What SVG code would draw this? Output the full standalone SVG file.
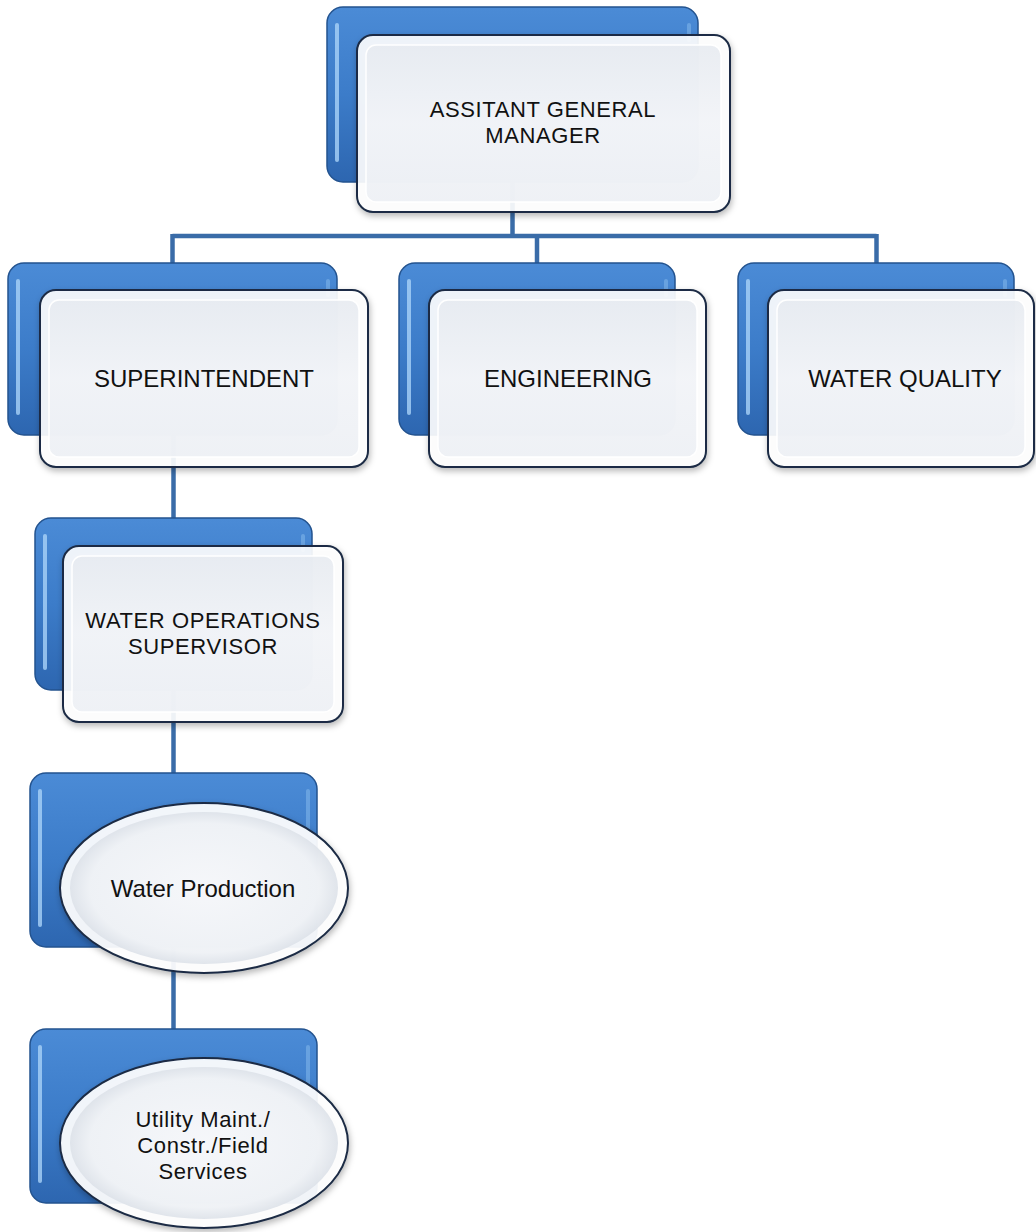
<svg xmlns="http://www.w3.org/2000/svg" width="1036" height="1232" viewBox="0 0 1036 1232">
<defs>
<linearGradient id="blueG" x1="0" y1="0" x2="0" y2="1">
<stop offset="0" stop-color="#4b8bd6"/>
<stop offset="0.5" stop-color="#3c7cc9"/>
<stop offset="1" stop-color="#2d66b0"/>
</linearGradient>
<linearGradient id="panelG" x1="0" y1="0" x2="0" y2="1">
<stop offset="0" stop-color="#e6eaf0"/>
<stop offset="0.5" stop-color="#f1f3f7"/>
<stop offset="1" stop-color="#eceff4"/>
</linearGradient>
<radialGradient id="ellG" cx="0.5" cy="0.5" r="0.5">
<stop offset="0" stop-color="#f6f7fa"/>
<stop offset="0.85" stop-color="#eef1f5"/>
<stop offset="1" stop-color="#dde2e9"/>
</radialGradient>
<filter id="sh" x="-10%" y="-10%" width="125%" height="130%">
<feDropShadow dx="1" dy="3" stdDeviation="3" flood-color="#000" flood-opacity="0.3"/>
</filter>
</defs>
<style>
.back{fill:url(#blueG);stroke:#23538f;stroke-width:1.5}
.hl{fill:none;stroke:#a9d2f7;stroke-width:4;stroke-linecap:round;opacity:0.8}
.hr{fill:none;stroke:#7fb4ea;stroke-width:4;stroke-linecap:round;opacity:0.6}
.front{fill:#ffffff;fill-opacity:0.9;stroke:#1b2c44;stroke-width:2}
.panel{fill:url(#panelG);fill-opacity:0.85;stroke:#ffffff;stroke-width:1.5}
.ell{fill:#ffffff;fill-opacity:0.92;stroke:#1b2c44;stroke-width:2}
.ellin{fill:url(#ellG);fill-opacity:0.9}
.conn{fill:none;stroke:#3a6ca8;stroke-width:4.5}
text{font-family:"Liberation Sans",Arial,sans-serif;font-size:24px;fill:#111;text-anchor:middle}
text.m{font-size:22px;letter-spacing:0.6px}
</style>
<rect width="1036" height="1232" fill="#ffffff"/>
<g id="connectors">
<path class="conn" d="M512.5 180 V236"/>
<path class="conn" d="M172.5 236 H876.5"/>
<path class="conn" d="M172.5 234 V264"/>
<path class="conn" d="M537 236 V264"/>
<path class="conn" d="M876.5 234 V264"/>
<path class="conn" d="M173.5 430 V519"/>
<path class="conn" d="M173.5 686 V774"/>
<path class="conn" d="M173.5 945 V1030"/>
</g>
<g id="node-agm">
<rect class="back" x="327" y="7" width="371" height="175" rx="16"/>
<path class="hl" d="M337 25 V160"/>
<path class="hr" d="M689 25 V40"/>
<g filter="url(#sh)"><rect class="front" x="357" y="35" width="373" height="177" rx="16"/></g>
<rect class="panel" x="366" y="45" width="355" height="157" rx="10"/>
<text class="m" x="543" y="117">ASSITANT GENERAL</text>
<text class="m" x="543" y="143">MANAGER</text>
</g>
<g id="node-superintendent">
<rect class="back" x="8" y="263" width="329" height="172" rx="16"/>
<path class="hl" d="M18 281 V413"/>
<path class="hr" d="M328 281 V295"/>
<g filter="url(#sh)"><rect class="front" x="40" y="290" width="328" height="177" rx="16"/></g>
<rect class="panel" x="49" y="300" width="310" height="157" rx="10"/>
<text x="204" y="387">SUPERINTENDENT</text>
</g>
<g id="node-engineering">
<rect class="back" x="399" y="263" width="276" height="172" rx="16"/>
<path class="hl" d="M409 281 V413"/>
<path class="hr" d="M666 281 V295"/>
<g filter="url(#sh)"><rect class="front" x="429" y="290" width="277" height="177" rx="16"/></g>
<rect class="panel" x="438" y="300" width="259" height="157" rx="10"/>
<text x="568" y="387">ENGINEERING</text>
</g>
<g id="node-water-quality">
<rect class="back" x="738" y="263" width="276" height="172" rx="16"/>
<path class="hl" d="M748 281 V413"/>
<path class="hr" d="M1005 281 V295"/>
<g filter="url(#sh)"><rect class="front" x="768" y="290" width="266" height="177" rx="16"/></g>
<rect class="panel" x="777" y="300" width="248" height="157" rx="10"/>
<text x="905" y="387">WATER QUALITY</text>
</g>
<g id="node-water-ops">
<rect class="back" x="35" y="518" width="277" height="172" rx="16"/>
<path class="hl" d="M45 536 V668"/>
<path class="hr" d="M303 536 V550"/>
<g filter="url(#sh)"><rect class="front" x="63" y="546" width="280" height="176" rx="16"/></g>
<rect class="panel" x="72" y="556" width="262" height="156" rx="10"/>
<text class="m" x="203" y="628">WATER OPERATIONS</text>
<text class="m" x="203" y="654">SUPERVISOR</text>
</g>
<g id="node-water-production">
<rect class="back" x="30" y="773" width="287" height="174" rx="16"/>
<path class="hl" d="M40 791 V925"/>
<path class="hr" d="M308 791 V830"/>
<g filter="url(#sh)"><ellipse class="ell" cx="204" cy="888" rx="144" ry="85"/></g>
<ellipse class="ellin" cx="204" cy="888" rx="134" ry="76"/>
<text x="203" y="897">Water Production</text>
</g>
<g id="node-utility">
<rect class="back" x="30" y="1029" width="287" height="174" rx="16"/>
<path class="hl" d="M40 1047 V1181"/>
<path class="hr" d="M308 1047 V1086"/>
<g filter="url(#sh)"><ellipse class="ell" cx="204" cy="1143" rx="144" ry="85"/></g>
<ellipse class="ellin" cx="204" cy="1143" rx="134" ry="76"/>
<text class="m" x="203" y="1127">Utility Maint./</text>
<text class="m" x="203" y="1153">Constr./Field</text>
<text class="m" x="203" y="1179">Services</text>
</g>
</svg>
